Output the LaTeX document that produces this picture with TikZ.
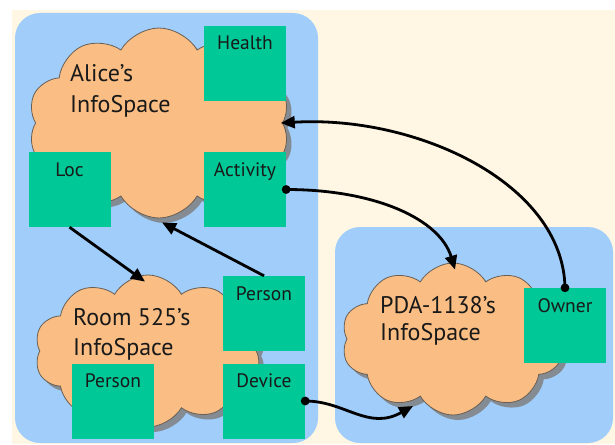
\documentclass[tikz,border=0pt]{standalone}
\usepackage{fontspec}
\setmainfont{PT Sans}
\usetikzlibrary{shapes.symbols,shadows,arrows.meta,calc}
\definecolor{cream}{RGB}{255,247,228}
\definecolor{panel}{RGB}{160,205,250}
\definecolor{puff}{RGB}{250,190,132}
\definecolor{leaf}{RGB}{0,200,150}
\definecolor{rim}{RGB}{105,95,85}
\definecolor{ink}{RGB}{25,25,25}
\tikzset{
  panelbox/.style={fill=panel, rounded corners=25pt},
  cloudbox/.style={cloud, cloud puffs=10, cloud puff arc=120, cloud ignores aspect,
    fill=puff, draw=rim, line width=0.8pt, inner sep=0pt,
    drop shadow={shadow xshift=5pt, shadow yshift=-5pt, fill=black!50, opacity=0.85}},
  cloudtext/.style={anchor=north west, inner sep=0pt, align=left, text=ink},
  leafbox/.style={fill=leaf, draw=none, inner sep=0pt, minimum width=82pt,
    text height=24pt, text depth=51pt, text=ink, font=\fontsize{19.5}{21}\selectfont},
  link/.style={line width=2.8pt, draw=black, -{Triangle[length=14pt,width=12pt]}},
}
\begin{document}
\begin{tikzpicture}[x=1pt,y=-1pt]
\useasboundingbox (0,0) rectangle (615,444);
\fill[white] (0,0) rectangle (615,444);
\fill[cream] (12,10) rectangle (615,444);
\fill[panelbox] (15,13) rectangle (318,443);
\fill[panelbox] (335,227) rectangle (613,443);

% clouds
\node[cloudbox, minimum width=262pt, minimum height=190pt] (alice) at (159,123) {};
\node[cloudbox, minimum width=227pt, minimum height=152pt] (room) at (148,351) {};
\node[cloudbox, minimum width=223pt, minimum height=152pt] (pda) at (453,339) {};

\node[cloudtext, font=\fontsize{24}{31.7}\selectfont] (alicet) at (70,64) {Alice’s\\InfoSpace};
\node[cloudtext, font=\fontsize{24}{30}\selectfont] (roomt) at (73,308) {Room 525’s\\InfoSpace};
\node[cloudtext, font=\fontsize{24}{27}\selectfont] (pdat) at (380,296) {PDA-1138’s\\InfoSpace};

% boxes
\node[leafbox] (health) at (245,63.5) {Health};
\node[leafbox] (loc) at (69.5,189.5) {Loc};
\node[leafbox] (act) at (245,189.5) {Activity};
\node[leafbox] (rperson) at (264,313.5) {Person};
\node[leafbox] (lperson) at (113,401) {Person};
\node[leafbox] (dev) at (264,401) {Device};
\node[leafbox] (owner) at (565,325.5) {Owner};

% connectors
\draw[link] (loc.south) -- ($(room.north)+(-3,7)$);
\draw[link] (rperson.north) -- ($(alice.south)+(3,4)$);
\draw[link] (act.east) .. controls +(90,0) and +(-15,-50) .. ($(pda.north)+(2,7)$);
\draw[link] (owner.north) .. controls +(-2,-105) and +(135,-8) .. ($(alice.east)+(-2,0)$);
\draw[link] (dev.east) .. controls +(40,0) and +(-45,25) .. ($(pda.center)+(-40,67)$);
\fill[black] (act.east) circle (4.4pt);
\fill[black] (owner.north) circle (4.4pt);
\fill[black] (dev.east) circle (4.4pt);
\end{tikzpicture}
\end{document}
